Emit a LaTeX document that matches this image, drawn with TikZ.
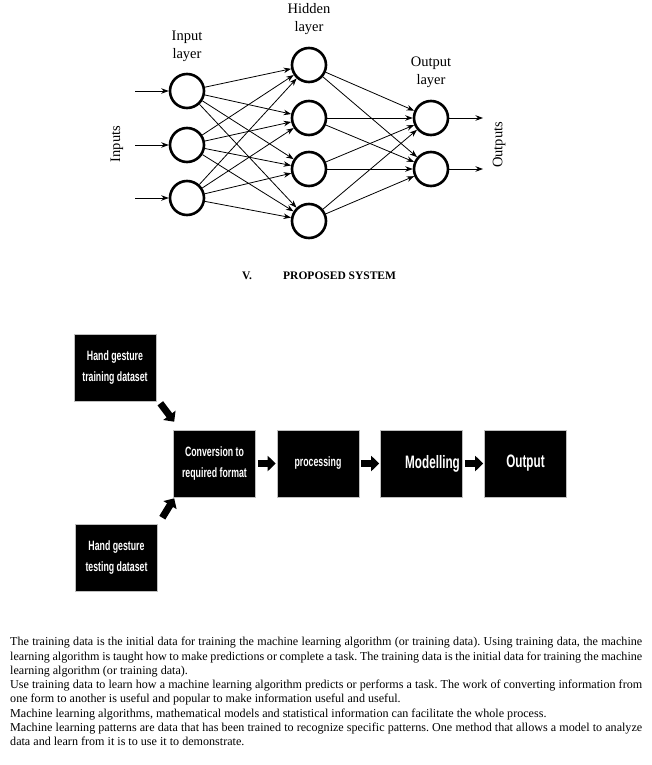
\documentclass[tikz,border=0pt]{standalone}
\usepackage{fontspec}
\setmainfont{Liberation Serif}
\newfontfamily\boxfont[FakeStretch=0.65]{Liberation Sans}
\usetikzlibrary{arrows.meta,positioning}
\setlength{\parindent}{0pt}
\frenchspacing

\tikzset{
  neuron/.style={circle,draw,line width=2.6pt,minimum size=34pt,inner sep=0pt},
  synapse/.style={-{Stealth[length=7.5pt,width=5.5pt]},line width=0.8pt},
  layerlabel/.style={align=center,inner sep=0pt,font=\fontsize{14.5}{18}\selectfont},
  heading/.style={inner sep=0pt,anchor=west,font=\bfseries\fontsize{11.5}{14}\selectfont},
  blackbox/.style={fill=black,draw=gray!50,line width=.6pt,minimum width=82pt,minimum height=67pt,
    inner sep=2pt,text=white,align=center,font=\boxfont\bfseries\fontsize{13.5}{21}\selectfont},
  bigtext/.style={font=\boxfont\bfseries\fontsize{18}{21}\selectfont},
  blockarrow/.style={line width=7pt,-{Triangle[width=15pt,length=8pt]}},
}

\begin{document}
\begin{tikzpicture}[x=1pt,y=-1pt]
    \path[use as bounding box] (0,0) rectangle (652,765);
    % network
    \node[neuron] (i1) at (187,91) {};
    \node[neuron] (i2) at (187,145) {};
    \node[neuron] (i3) at (187,198) {};
    \node[neuron] (h1) at (309,65) {};
    \node[neuron] (h2) at (309,118) {};
    \node[neuron] (h3) at (309,169) {};
    \node[neuron] (h4) at (309,221) {};
    \node[neuron] (o1) at (431,118) {};
    \node[neuron] (o2) at (431,169) {};
    \coordinate (in1) at (135,91);
    \coordinate (in2) at (135,145);
    \coordinate (in3) at (135,198);
    \coordinate (out1) at (483,118);
    \coordinate (out2) at (483,169);
    \path[synapse]%
      (in1) edge (i1)
      (in2) edge (i2)
      (in3) edge (i3)
      (i1) edge (h1)
      (i1) edge (h2)
      (i1) edge (h3)
      (i1) edge (h4)
      (i2) edge (h1)
      (i2) edge (h2)
      (i2) edge (h3)
      (i2) edge (h4)
      (i3) edge (h1)
      (i3) edge (h2)
      (i3) edge (h3)
      (i3) edge (h4)
      (h1) edge (o1)
      (h1) edge (o2)
      (h2) edge (o1)
      (h2) edge (o2)
      (h3) edge (o1)
      (h3) edge (o2)
      (h4) edge (o1)
      (h4) edge (o2)
      (o1) edge (out1)
      (o2) edge (out2);
    \node[layerlabel] (inlabel) at (187,46) {Input\\layer};
    \node[layerlabel] (hidlabel) at (309,19) {Hidden\\layer};
    \node[layerlabel] (outlabel) at (431,72) {Output\\layer};
    \node[layerlabel,rotate=90] (inputs) at (117,144) {Inputs};
    \node[layerlabel,rotate=90] (outputs) at (499,145) {Outputs};
    % section title
    \node[heading] (secnum) at (242,276) {V.};
    \node[heading] (sectitle) at (283,276) {PROPOSED SYSTEM};
    % flow chart
    \node[blackbox] (train) at (115,367.5) {Hand gesture\\training dataset};
    \node[blackbox] (test) at (116.5,558) {Hand gesture\\testing dataset};
    \node[blackbox] (conv) at (214.5,463.5) {Conversion to\\required format};
    \node[blackbox] (proc) at (318,463.5) {processing};
    \node[blackbox,bigtext] (model) at (421.5,463.5) {\hspace*{22pt}Modelling};
    \node[blackbox,bigtext] (result) at (525.5,463.5) {Output};
    \draw[blockarrow] ([shift={(4pt,-2pt)}]train.south east) -- ([shift={(1pt,8pt)}]conv.north west);
    \draw[blockarrow] ([shift={(4.5pt,6.5pt)}]test.north east) -- ([shift={(1pt,-1pt)}]conv.south west);
    \draw[blockarrow,shorten <=2pt,shorten >=1pt] (conv) -- (proc);
    \draw[blockarrow,shorten <=2pt,shorten >=1pt] (proc) -- (model);
    \draw[blockarrow,shorten <=2pt,shorten >=1pt] (model) -- (result);
    % text
    \node[anchor=north west,inner sep=0pt,text width=632pt,align=justify,
      font=\fontsize{12.1}{14.3}\selectfont] (body) at (10,637) {%
      \spaceskip=.25em plus .3em minus .08em\emergencystretch=2em
      The training data is the initial data for training the machine learning algorithm (or training data). Using training data, the machine\linebreak
      learning algorithm is taught how to make predictions or complete a task. The training data is the initial data for training the machine\linebreak
      learning algorithm (or training data).\par
      Use training data to learn how a machine learning algorithm predicts or performs a task. The work of converting information from\linebreak
      one form to another is useful and popular to make information useful and useful.\par
      Machine learning algorithms, mathematical models and statistical information can facilitate the whole process.\par
      Machine learning patterns are data that has been trained to recognize specific patterns. One method that allows a model to analyze\linebreak
      data and learn from it is to use it to demonstrate.};
\end{tikzpicture}
\end{document}
